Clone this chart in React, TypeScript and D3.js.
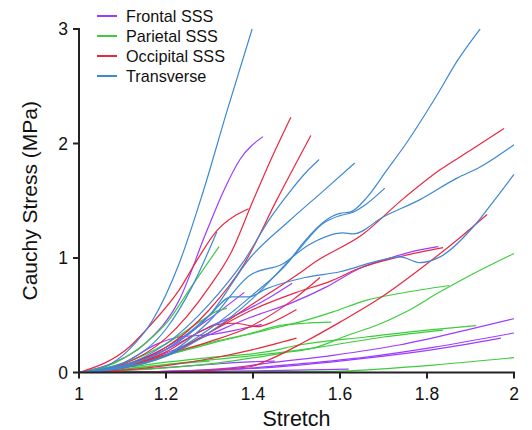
import * as d3 from "d3";

// stretch / cauchy stress (MPa) pairs
const frontalCurves: [number, number][][] = [
  [[1, 0], [1.076, 0.08], [1.154, 0.26], [1.23, 0.63], [1.292, 1.22], [1.333, 1.59], [1.37, 1.86], [1.423, 2.06]],
  [[1, 0], [1.1, 0.05], [1.2, 0.17], [1.3, 0.33], [1.393, 0.48], [1.49, 0.61], [1.57, 0.75], [1.646, 0.91], [1.715, 1.0], [1.77, 1.06], [1.826, 1.1]],
  [[1, 0], [1.1, 0.06], [1.2, 0.22], [1.3, 0.47], [1.38, 0.7]],
  [[1, 0], [1.1, 0.06], [1.2, 0.2], [1.3, 0.4], [1.36, 0.5], [1.44, 0.66], [1.49, 0.78]],
  [[1, 0], [1.1, 0.08], [1.18, 0.25], [1.23, 0.31], [1.3, 0.33], [1.36, 0.37], [1.42, 0.42]],
  [[1, 0], [1.2, 0.01], [1.35, 0.04], [1.43, 0.08], [1.584, 0.15], [1.736, 0.24], [1.89, 0.37], [2.0, 0.47]],
  [[1, 0], [1.2, 0.01], [1.4, 0.04], [1.506, 0.075], [1.66, 0.135], [1.814, 0.22], [2.0, 0.345]],
  [[1, 0], [1.2, 0.01], [1.4, 0.035], [1.506, 0.065], [1.66, 0.125], [1.814, 0.2], [1.97, 0.3]],
  [[1, 0], [1.15, 0.03], [1.3, 0.07], [1.38, 0.09], [1.45, 0.1]],
  [[1, 0], [1.3, 0.01], [1.5, 0.02], [1.62, 0.03]],
];

const parietalCurves: [number, number][][] = [
  [[1, 0], [1.08, 0.08], [1.154, 0.26], [1.207, 0.46], [1.253, 0.72], [1.322, 1.1]],
  [[1, 0], [1.1, 0.08], [1.2, 0.25], [1.28, 0.45], [1.32, 0.54], [1.34, 0.56]],
  [[1, 0], [1.2, 0.04], [1.35, 0.1], [1.469, 0.17], [1.545, 0.22], [1.621, 0.33], [1.683, 0.41], [1.752, 0.53], [1.828, 0.7], [1.89, 0.83], [2.0, 1.04]],
  [[1, 0], [1.1, 0.06], [1.2, 0.15], [1.3, 0.25], [1.43, 0.37], [1.506, 0.44], [1.584, 0.53], [1.66, 0.63], [1.736, 0.69], [1.851, 0.76]],
  [[1, 0], [1.1, 0.06], [1.2, 0.15], [1.3, 0.26], [1.393, 0.34], [1.46, 0.41], [1.52, 0.43], [1.58, 0.44]],
  [[1, 0], [1.1, 0.04], [1.2, 0.09], [1.3, 0.13], [1.43, 0.18], [1.506, 0.24], [1.66, 0.31], [1.8, 0.37], [1.913, 0.41]],
  [[1, 0], [1.1, 0.03], [1.2, 0.07], [1.3, 0.11], [1.43, 0.16], [1.55, 0.22], [1.7, 0.31], [1.837, 0.37]],
  [[1, 0], [1.3, 0.002], [1.584, 0.01], [1.814, 0.065], [2.0, 0.13]],
  [[1, 0], [1.1, 0.03], [1.2, 0.07], [1.3, 0.1]],
];

const occipitalCurves: [number, number][][] = [
  [[1, 0], [1.1, 0.07], [1.2, 0.3], [1.3, 0.75], [1.35, 1.05], [1.4, 1.5], [1.44, 1.85], [1.487, 2.23]],
  [[1, 0], [1.1, 0.06], [1.2, 0.22], [1.3, 0.55], [1.38, 0.95], [1.455, 1.51], [1.533, 2.07]],
  [[1, 0], [1.115, 0.22], [1.168, 0.43], [1.23, 0.72], [1.276, 1.01], [1.315, 1.23], [1.361, 1.375], [1.39, 1.43]],
  [[1, 0], [1.1, 0.04], [1.2, 0.15], [1.3, 0.35], [1.4, 0.6], [1.5, 0.85], [1.549, 0.98], [1.65, 1.2], [1.743, 1.51], [1.83, 1.77], [1.9, 1.94], [1.977, 2.13]],
  [[1, 0], [1.1, 0.04], [1.2, 0.15], [1.3, 0.35], [1.4, 0.55], [1.5, 0.7], [1.58, 0.8], [1.644, 0.91], [1.736, 1.01], [1.837, 1.09]],
  [[1, 0], [1.2, 0.005], [1.393, 0.05], [1.43, 0.1], [1.52, 0.27], [1.6, 0.44], [1.692, 0.65], [1.8, 0.95], [1.87, 1.16], [1.938, 1.38]],
  [[1, 0], [1.1, 0.04], [1.193, 0.15], [1.3, 0.27], [1.393, 0.4], [1.49, 0.63], [1.554, 0.83]],
  [[1, 0], [1.1, 0.05], [1.2, 0.18], [1.28, 0.36], [1.32, 0.42], [1.36, 0.43], [1.41, 0.4], [1.45, 0.45], [1.5, 0.55]],
  [[1, 0], [1.1, 0.02], [1.2, 0.06], [1.3, 0.12], [1.4, 0.2], [1.5, 0.3]],
];

const transverseCurves: [number, number][][] = [
  [[1, 0], [1.06, 0.05], [1.115, 0.2], [1.168, 0.45], [1.23, 0.95], [1.283, 1.55], [1.34, 2.28], [1.398, 3.0]],
  [[1, 0], [1.1, 0.04], [1.2, 0.15], [1.3, 0.38], [1.4, 0.68], [1.485, 0.98], [1.515, 1.13], [1.58, 1.36], [1.6, 1.39], [1.623, 1.4], [1.662, 1.53], [1.708, 1.77], [1.752, 2.0], [1.821, 2.41], [1.871, 2.73], [1.922, 3.0]],
  [[1, 0], [1.1, 0.08], [1.2, 0.38], [1.26, 0.75], [1.317, 1.23]],
  [[1, 0], [1.1, 0.06], [1.2, 0.25], [1.3, 0.6], [1.38, 0.98], [1.44, 1.35], [1.485, 1.58], [1.52, 1.74], [1.552, 1.86]],
  [[1, 0], [1.1, 0.05], [1.2, 0.2], [1.3, 0.5], [1.393, 1.0], [1.485, 1.33], [1.56, 1.58], [1.634, 1.83]],
  [[1, 0], [1.1, 0.04], [1.2, 0.14], [1.3, 0.35], [1.4, 0.65], [1.5, 1.05], [1.56, 1.3], [1.6, 1.37], [1.63, 1.4], [1.66, 1.47], [1.703, 1.61]],
  [[1, 0], [1.1, 0.04], [1.2, 0.15], [1.3, 0.45], [1.393, 0.85], [1.469, 0.95], [1.526, 1.11], [1.607, 1.22], [1.63, 1.21], [1.7, 1.36], [1.784, 1.51], [1.87, 1.7], [1.92, 1.79], [2.0, 1.99]],
  [[1, 0], [1.1, 0.05], [1.2, 0.2], [1.3, 0.5], [1.35, 0.66], [1.39, 0.66], [1.43, 0.73], [1.52, 0.83], [1.6, 0.88], [1.692, 0.98], [1.738, 1.01], [1.784, 0.96], [1.83, 1.01], [1.915, 1.31], [1.956, 1.51], [2.0, 1.73]],
];

const legendLabels = ["Frontal SSS", "Parietal SSS", "Occipital SSS", "Transverse"];
const seriesColors = ["#9b3cff", "#3dcc3d", "#e8283f", "#3f88d2"];
const xTicks = [1, 1.2, 1.4, 1.6, 1.8, 2];
const yTicks = [0, 1, 2, 3];

export default function App() {
  const width = 532, height = 430;
  const left = 79, right = 514, top = 29, bottom = 372.5;

  const x = d3.scaleLinear().domain([1, 2]).range([left, right]);
  const y = d3.scaleLinear().domain([0, 3]).range([bottom, top]);
  const line = d3.line<[number, number]>()
    .x(d => x(d[0]))
    .y(d => y(d[1]))
    .curve(d3.curveMonotoneX);

  const groups = [frontalCurves, parietalCurves, occipitalCurves, transverseCurves];
  const font = "Liberation Sans, Arial, sans-serif";

  return (
    <svg width={width} height={height} style={{position: "absolute", left: 0, top: 0}} fontFamily={font}>
      <rect width={width} height={height} fill="#fff" />

      {/* curves */}
      {groups.map((curves, gi) => (
        <g key={gi} fill="none" stroke={seriesColors[gi]} strokeWidth={1.2}>
          {curves.map((c, i) => <path key={i} d={line(c) || ""} />)}
        </g>
      ))}

      {/* axes */}
      <g stroke="#222" strokeWidth={2}>
        <line x1={left} x2={left} y1={top - 1} y2={bottom + 1} />
        <line x1={left - 1} x2={right + 1} y1={bottom} y2={bottom} />
        {yTicks.map(t => <line key={t} x1={left - 6} x2={left} y1={y(t)} y2={y(t)} />)}
        {xTicks.map(t => <line key={t} x1={x(t)} x2={x(t)} y1={bottom} y2={bottom + 6} />)}
      </g>
      {yTicks.map(t => (
        <text key={t} x={left - 11} y={y(t)} dy="0.35em" textAnchor="end" fontSize={17.5} fill="#111">{t}</text>
      ))}
      {xTicks.map(t => (
        <text key={t} x={x(t)} y={bottom + 27.5} textAnchor="middle" fontSize={17.5} fill="#111">{t}</text>
      ))}
      <text x={(left + right) / 2} y={426} textAnchor="middle" fontSize={21.5} fill="#111">Stretch</text>
      <text transform={`translate(37,${(top + bottom) / 2}) rotate(-90)`} textAnchor="middle" fontSize={21} fill="#111">
        Cauchy Stress (MPa)
      </text>

      {/* legend */}
      {legendLabels.map((lab, i) => (
        <g key={lab} transform={`translate(97,${16 + i * 20})`}>
          <line x1={0} x2={20} y1={0} y2={0} stroke={seriesColors[i]} strokeWidth={2} />
          <text x={29} y={0} dy="0.35em" fontSize={16.2} fill="#111">{lab}</text>
        </g>
      ))}
    </svg>
  );
}
